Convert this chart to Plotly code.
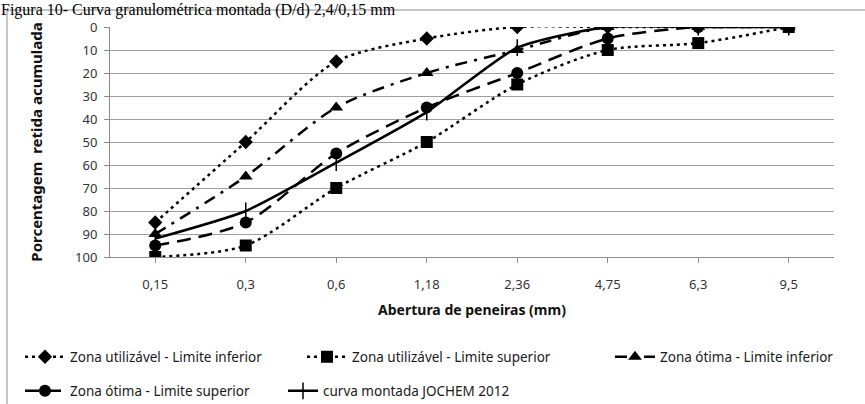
import plotly.graph_objects as go

# Sieve openings (mm) and cumulative retained percentages
aberturas = ["0,15", "0,3", "0,6", "1,18", "2,36", "4,75", "6,3", "9,5"]
util_inferior = [85, 50, 15, 5, 0, 0, 0, 0]
util_superior = [100, 95, 70, 50, 25, 10, 7, 0]
otima_inferior = [90, 65, 35, 20, 10, 0, 0, 0]
otima_superior = [95, 85, 55, 35, 20, 5, 0, 0]
jochem_2012 = [92, 80, 59, 37, 9, 0, 0, 0]
y_ticks = [0, 10, 20, 30, 40, 50, 60, 70, 80, 90, 100]

W, H = 865, 404
ML, MR, MT, MB = 110, 31, 27, 147
PW, PH = W - ML - MR, H - MT - MB


def px_x(p):
    return (p - ML) / PW


def px_y(p):
    return (H - MB - p) / PH


FONT = "Noto Sans"
BLACK = "#000000"

series = [
    ("Zona utilizável - Limite inferior", util_inferior, "diamond", 11, "3px,4px", "legend"),
    ("Zona utilizável - Limite superior", util_superior, "square", 12, "3px,4px", "legend2"),
    ("Zona ótima - Limite inferior", otima_inferior, "triangle-up", 12, "12px,7px,3px,7px", "legend3"),
    ("Zona ótima - Limite superior", otima_superior, "circle", 12, "14px,8px", "legend4"),
]

fig = go.Figure()
for name, vals, sym, size, dash, leg in series:
    fig.add_trace(go.Scatter(
        x=aberturas, y=vals, name=name, mode="lines+markers",
        line=dict(color=BLACK, width=2.5, dash=dash, shape="spline", smoothing=0.8),
        marker=dict(symbol=sym, size=size, color=BLACK),
        legend=leg,
    ))

fig.add_trace(go.Scatter(
    x=aberturas, y=jochem_2012, name="curva montada JOCHEM 2012", mode="lines+markers",
    line=dict(color=BLACK, width=2.5, shape="spline", smoothing=0.6),
    marker=dict(symbol="line-ns", size=12, color=BLACK, line=dict(color=BLACK, width=1.5)),
    legend="legend5",
))

legend_font = dict(family=FONT, size=13.5, color="#1a1a1a")


def leg(xp, yp, iw=40):
    return dict(x=px_x(xp), y=px_y(yp), xanchor="left", yanchor="middle",
                orientation="h", font=legend_font, itemwidth=iw,
                bgcolor="rgba(0,0,0,0)", borderwidth=0, itemclick=False)


fig.update_layout(
    width=W, height=H,
    margin=dict(l=ML, r=MR, t=MT, b=MB, autoexpand=False),
    paper_bgcolor="white", plot_bgcolor="white",
    font=dict(family=FONT, size=12, color="#222"),
    showlegend=True,
    legend=leg(20, 357),
    legend2=leg(302, 357),
    legend3=leg(610, 357),
    legend4=leg(20, 391),
    legend5=leg(283, 391, 30),
    xaxis=dict(
        type="category", range=[-0.5, 7.5],
        showgrid=False, showline=True, linecolor="#8c8c8c", linewidth=1,
        ticks="outside", ticklen=5, tickcolor="#8c8c8c",
        ticklabelstandoff=10,
        tickfont=dict(family=FONT, size=13, color="#333"),
        title=dict(text="<b>Abertura de peneiras (mm)</b>",
                   font=dict(family=FONT, size=14, color="#111"), standoff=13),
    ),
    yaxis=dict(
        range=[100, 0], tickvals=y_ticks,
        showgrid=True, gridcolor="#a0a0a0", gridwidth=1,
        showline=True, linecolor="#8c8c8c", linewidth=1,
        ticks="outside", ticklen=5, tickcolor="#8c8c8c",
        ticklabelstandoff=4, zeroline=False,
        tickfont=dict(family=FONT, size=13, color="#333"),
        title=dict(text="<b>Porcentagem  retida acumulada</b>",
                   font=dict(family=FONT, size=15, color="#111"), standoff=28),
    ),
    shapes=[dict(type="rect", xref="paper", yref="paper",
                 x0=px_x(7), x1=px_x(900), y0=px_y(420), y1=px_y(10),
                 line=dict(color="#8c8c8c", width=1), fillcolor="rgba(0,0,0,0)",
                 layer="below")],
    annotations=[dict(
        text="Figura 10- Curva granulométrica montada (D/d) 2,4/0,15 mm",
        xref="paper", yref="paper", x=px_x(0), y=px_y(0),
        xanchor="left", yanchor="top", showarrow=False, borderpad=0,
        font=dict(family="Liberation Serif", size=16, color="#000"),
    )],
)

fig.write_html("out.html")
